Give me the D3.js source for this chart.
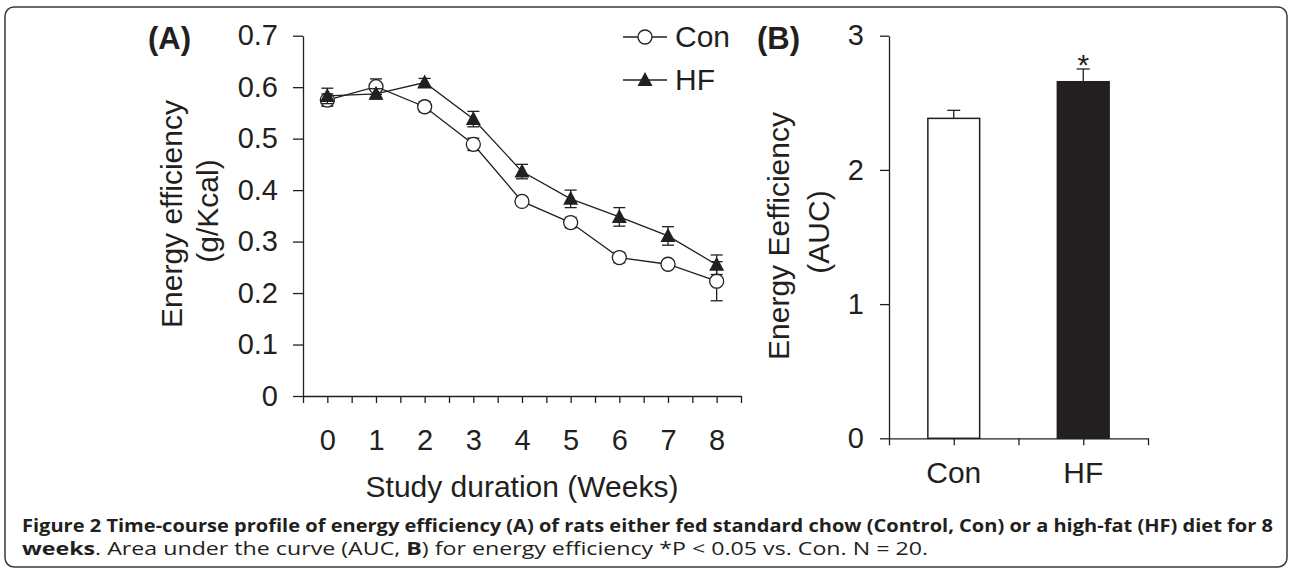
<!DOCTYPE html>
<html>
<head>
<meta charset="utf-8">
<script src="https://cdn.jsdelivr.net/npm/d3@7"></script>
<style>
  body { margin: 0; background: #fff; }
  text { font-family: "Liberation Sans", Arial, sans-serif; fill: #231f20; }
  .cap { font-family: "Open Sans", sans-serif; }
</style>
</head>
<body>
<svg id="fig" width="1290" height="570"></svg>
<script>
// panel A data: energy efficiency per week
const weeks = [0, 1, 2, 3, 4, 5, 6, 7, 8];
const conMean = [0.575, 0.601, 0.562, 0.489, 0.378, 0.337, 0.269, 0.256, 0.223];
const conErr  = [0.012, 0.015, 0.010, 0.012, 0.008, 0.010, 0.010, 0.008, 0.038];
const hfMean  = [0.583, 0.587, 0.609, 0.538, 0.436, 0.383, 0.348, 0.311, 0.255];
const hfErr   = [0.015, 0.010, 0.008, 0.015, 0.014, 0.017, 0.018, 0.018, 0.019];
const yTicksA = [0, 0.1, 0.2, 0.3, 0.4, 0.5, 0.6, 0.7];

// panel B data: AUC
const groups = ['Con', 'HF'];
const aucMean = [2.384, 2.657];
const aucErr  = [0.06, 0.095];
const yTicksB = [0, 1, 2, 3];

const ink = '#231f20';
const svg = d3.select('#fig');

// frame
svg.append('rect')
    .attr('x', 5).attr('y', 7).attr('width', 1282).attr('height', 560)
    .attr('rx', 9).attr('fill', 'none').attr('stroke', '#3a3a3a').attr('stroke-width', 1.5);

// ---------- panel A ----------
const xA = d3.scaleLinear().domain([-0.5, 8.5]).range([303, 741]);
const yA = d3.scaleLinear().domain([0, 0.7]).range([396, 35.7]);

const axA = svg.append('g').attr('transform', 'translate(0,' + yA(0) + ')')
    .call(d3.axisBottom(xA).tickValues(d3.range(-0.5, 8.51, 0.5)).tickSize(7).tickSizeOuter(0).tickPadding(26)
        .tickFormat(d => Number.isInteger(d) && d >= 0 ? d : ''));
const ayA = svg.append('g').attr('transform', 'translate(' + xA(-0.5) + ',0)')
    .call(d3.axisLeft(yA).tickValues(yTicksA).tickSize(10).tickSizeOuter(0).tickPadding(15)
        .tickFormat(d => d === 0 ? '0' : d3.format('.1f')(d)));

[axA, ayA].forEach(a => {
    a.selectAll('path, line').attr('stroke', ink).attr('stroke-width', 1.3);
    a.selectAll('text').attr('font-size', 29).attr('fill', ink)
        .attr('font-family', '"Liberation Sans", Arial, sans-serif');
});

svg.append('text').attr('x', xA(4)).attr('y', 497).attr('text-anchor', 'middle')
    .attr('font-size', 30).text('Study duration (Weeks)');
svg.append('text').attr('transform', 'translate(182,214) rotate(-90)')
    .attr('text-anchor', 'middle').attr('font-size', 30).text('Energy efficiency');
svg.append('text').attr('transform', 'translate(218,211) rotate(-90)')
    .attr('text-anchor', 'middle').attr('font-size', 30).text('(g/Kcal)');
svg.append('text').attr('x', 148).attr('y', 49).attr('font-size', 31)
    .attr('font-weight', 'bold').text('(A)');

function drawSeries(means, errs, marker) {
    const pts = weeks.map((w, i) => ({ x: w, y: means[i], e: errs[i] }));
    const g = svg.append('g');
    // error bars
    const eb = g.selectAll('g.eb').data(pts).enter().append('g');
    eb.append('line')
        .attr('x1', d => xA(d.x)).attr('x2', d => xA(d.x))
        .attr('y1', d => yA(d.y - d.e)).attr('y2', d => yA(d.y + d.e))
        .attr('stroke', ink).attr('stroke-width', 1.3);
    [-1, 1].forEach(s => {
        eb.append('line')
            .attr('x1', d => xA(d.x) - 6).attr('x2', d => xA(d.x) + 6)
            .attr('y1', d => yA(d.y + s * d.e)).attr('y2', d => yA(d.y + s * d.e))
            .attr('stroke', ink).attr('stroke-width', 1.3);
    });
    g.append('path').datum(pts)
        .attr('d', d3.line().x(d => xA(d.x)).y(d => yA(d.y)))
        .attr('fill', 'none').attr('stroke', ink).attr('stroke-width', 1.3);
    if (marker === 'circle') {
        g.selectAll('circle').data(pts).enter().append('circle')
            .attr('cx', d => xA(d.x)).attr('cy', d => yA(d.y)).attr('r', 7)
            .attr('fill', '#fff').attr('stroke', ink).attr('stroke-width', 1.3);
    } else {
        g.selectAll('path.tri').data(pts).enter().append('path')
            .attr('transform', d => 'translate(' + xA(d.x) + ',' + yA(d.y) + ')')
            .attr('d', 'M0,-8L7.5,6L-7.5,6Z').attr('fill', ink);
    }
}
drawSeries(conMean, conErr, 'circle');
drawSeries(hfMean, hfErr, 'triangle');

// legend
const legend = [{ name: 'Con', y: 37, m: 'circle' }, { name: 'HF', y: 80, m: 'triangle' }];
legend.forEach(l => {
    svg.append('line').attr('x1', 623).attr('x2', 667).attr('y1', l.y).attr('y2', l.y)
        .attr('stroke', ink).attr('stroke-width', 1.3);
    if (l.m === 'circle') {
        svg.append('circle').attr('cx', 645).attr('cy', l.y).attr('r', 7)
            .attr('fill', '#fff').attr('stroke', ink).attr('stroke-width', 1.3);
    } else {
        svg.append('path').attr('transform', 'translate(645,' + l.y + ')')
            .attr('d', 'M0,-8L7.5,6L-7.5,6Z').attr('fill', ink);
    }
    svg.append('text').attr('x', 675).attr('y', l.y + 10).attr('font-size', 30).text(l.name);
});

// ---------- panel B ----------
const xB = d3.scaleBand().domain(groups).range([889, 1148]).paddingInner(0.6).paddingOuter(0.3);
const xBt = d3.scaleLinear().domain([0, 2]).range([889, 1148]);
const yB = d3.scaleLinear().domain([0, 3]).range([438.3, 35.7]);

const axB = svg.append('g').attr('transform', 'translate(0,' + yB(0) + ')')
    .call(d3.axisBottom(xBt).tickValues([0, 0.5, 1, 1.5, 2]).tickSize(7).tickSizeOuter(0).tickFormat(''));
const ayB = svg.append('g').attr('transform', 'translate(889,0)')
    .call(d3.axisLeft(yB).tickValues(yTicksB).tickSize(9).tickSizeOuter(0).tickPadding(16)
        .tickFormat(d3.format('d')));
[axB, ayB].forEach(a => {
    a.selectAll('path, line').attr('stroke', ink).attr('stroke-width', 1.3);
    a.selectAll('text').attr('font-size', 29).attr('fill', ink)
        .attr('font-family', '"Liberation Sans", Arial, sans-serif');
});
svg.selectAll('text.grp').data(groups).enter().append('text')
    .attr('x', d => xB(d) + xB.bandwidth() / 2).attr('y', 483)
    .attr('text-anchor', 'middle').attr('font-size', 30).text(d => d);

const bars = groups.map((g, i) => ({ g: g, v: aucMean[i], e: aucErr[i] }));
svg.selectAll('rect.bar').data(bars).enter().append('rect')
    .attr('x', d => xB(d.g)).attr('width', xB.bandwidth())
    .attr('y', d => yB(d.v)).attr('height', d => yB(0) - yB(d.v))
    .attr('fill', (d, i) => i === 0 ? '#fff' : ink)
    .attr('stroke', ink).attr('stroke-width', 1.5);
bars.forEach(d => {
    const cx = xB(d.g) + xB.bandwidth() / 2;
    svg.append('line').attr('x1', cx).attr('x2', cx).attr('y1', yB(d.v)).attr('y2', yB(d.v + d.e))
        .attr('stroke', ink).attr('stroke-width', 1.3);
    svg.append('line').attr('x1', cx - 6.5).attr('x2', cx + 6.5).attr('y1', yB(d.v + d.e)).attr('y2', yB(d.v + d.e))
        .attr('stroke', ink).attr('stroke-width', 1.3);
});
svg.append('text').attr('x', xB('HF') + xB.bandwidth() / 2).attr('y', 75)
    .attr('text-anchor', 'middle').attr('font-size', 30).text('*');

svg.append('text').attr('transform', 'translate(789,236) rotate(-90)')
    .attr('text-anchor', 'middle').attr('font-size', 30).text('Energy Eefficiency');
svg.append('text').attr('transform', 'translate(829,232) rotate(-90)')
    .attr('text-anchor', 'middle').attr('font-size', 30).text('(AUC)');
svg.append('text').attr('x', 757).attr('y', 49).attr('font-size', 31)
    .attr('font-weight', 'bold').text('(B)');

// ---------- caption ----------
svg.append('text').attr('class', 'cap').attr('x', 22).attr('y', 532)
    .attr('font-size', 17.5).attr('font-weight', 'bold')
    .attr('textLength', 1251).attr('lengthAdjust', 'spacingAndGlyphs')
    .text('Figure 2 Time-course profile of energy efficiency (A) of rats either fed standard chow (Control, Con) or a high-fat (HF) diet for 8');
const cap2 = svg.append('text').attr('class', 'cap').attr('x', 22).attr('y', 555)
    .attr('font-size', 17.5).attr('textLength', 906).attr('lengthAdjust', 'spacingAndGlyphs');
cap2.append('tspan').attr('font-weight', 'bold').text('weeks');
cap2.append('tspan').text('. Area under the curve (AUC, ');
cap2.append('tspan').attr('font-weight', 'bold').text('B');
cap2.append('tspan').text(') for energy efficiency *P < 0.05 vs. Con. N = 20.');
</script>
</body>
</html>
